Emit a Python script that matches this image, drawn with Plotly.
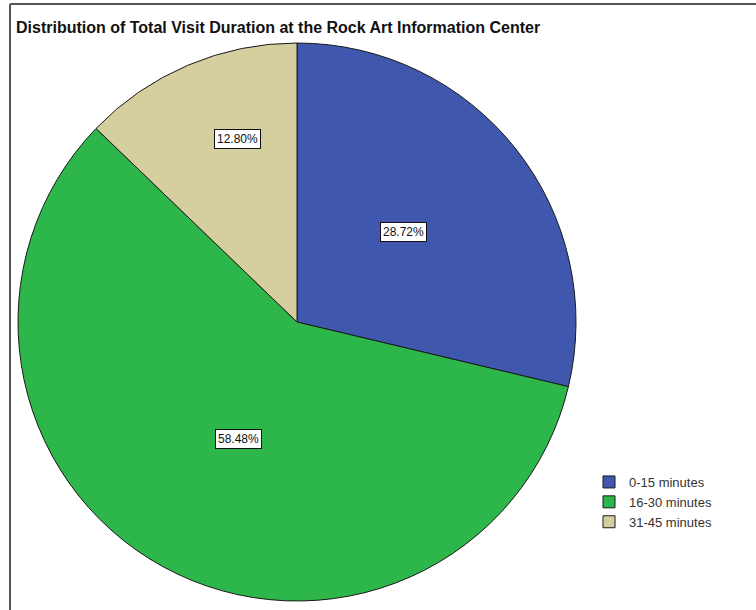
import math
import plotly.graph_objects as go

categories = ["0-15 minutes", "16-30 minutes", "31-45 minutes"]
percentages = [28.72, 58.48, 12.80]
label_texts = ["28.72%", "58.48%", "12.80%"]
colors = ["#3F57AD", "#2DB74A", "#D5CF9F"]

title = "Distribution of Total Visit Duration at the Rock Art Information Center"

W, H = 756, 610
cx, cy, R = 297, 322, 279
dom_x = [(cx - R) / W, (cx + R) / W]
dom_y = [1 - (cy + R) / H, 1 - (cy - R) / H]

fig = go.Figure()
fig.add_trace(go.Pie(
    labels=categories,
    values=percentages,
    sort=False,
    direction="clockwise",
    rotation=0,
    marker=dict(colors=colors, line=dict(color="#1a1a1a", width=1)),
    textinfo="none",
    hoverinfo="label+percent",
    domain=dict(x=dom_x, y=dom_y),
))

# label positions computed from slice angles (style: angular / radial fraction)
label_ang = [0.48, 0.49, 0.61]
label_rad = [0.50, 0.47, 0.69]
total = sum(percentages)
cum = 0.0
for v, txt, fa, fr in zip(percentages, label_texts, label_ang, label_rad):
    ang = (cum + v * fa) / total * 2 * math.pi
    cum += v
    px = cx + fr * R * math.sin(ang)
    py = cy - fr * R * math.cos(ang)
    fig.add_annotation(
        x=px / W, y=1 - py / H, xref="paper", yref="paper",
        xanchor="center", yanchor="middle",
        text=txt, showarrow=False,
        font=dict(family="Liberation Sans, Arial, sans-serif", size=12, color="#111"),
        bgcolor="white", bordercolor="#111", borderwidth=1, borderpad=2,
    )

fig.add_annotation(
    x=14 / W, y=1 - 27 / H, xref="paper", yref="paper",
    xanchor="left", yanchor="middle", showarrow=False,
    text="<b>" + title + "</b>",
    font=dict(family="Liberation Sans, Arial, sans-serif", size=16, color="#111"),
)

# frame lines
fig.add_shape(type="line", xref="paper", yref="paper",
              x0=10 / W, x1=1, y0=1 - 4 / H, y1=1 - 4 / H,
              line=dict(color="#555", width=2))
fig.add_shape(type="line", xref="paper", yref="paper",
              x0=10 / W, x1=10 / W, y0=0, y1=1 - 4 / H,
              line=dict(color="#555", width=2))

fig.update_layout(
    width=W, height=H,
    margin=dict(l=0, r=0, t=0, b=0),
    paper_bgcolor="white", plot_bgcolor="white",
    showlegend=True,
    legend=dict(
        x=589 / W, y=1 - 467 / H, xanchor="left", yanchor="top",
        font=dict(family="Liberation Sans, Arial, sans-serif", size=13, color="#333"),
        itemwidth=30, tracegroupgap=0,
        bgcolor="rgba(0,0,0,0)",
    ),
)

fig.write_html("out.html")
